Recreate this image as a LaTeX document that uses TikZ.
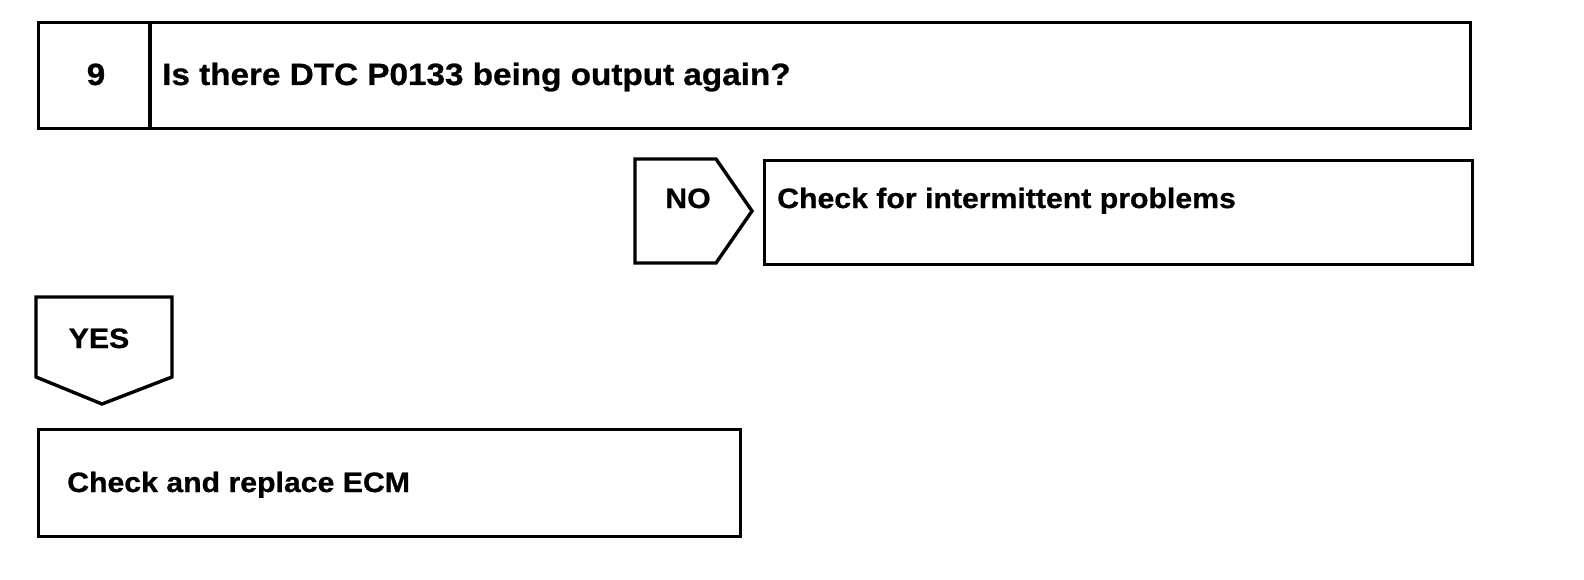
\documentclass[tikz,border=0pt]{standalone}
\usepackage{fontspec}
\setmainfont{Liberation Sans}
\newfontfamily\labfont[FakeStretch=1.08,FakeBold=0.8]{Liberation Sans}
\begin{document}
\begin{tikzpicture}[x=1pt,y=-1pt,
  boxline/.style={line width=3.4pt,line join=miter},
  lab/.style={inner sep=0pt,font=\labfont\bfseries\fontsize{28}{32}\selectfont},
  qlab/.style={inner sep=0pt,font=\labfont\bfseries\fontsize{30.8}{34}\selectfont}]
\useasboundingbox[fill=white] (0,0) rectangle (1584,580);
% top question box
\node[boxline,draw,rectangle,anchor=north west,minimum width=1432pt,minimum height=106pt,inner sep=0pt] (q) at (37,21) {};
\coordinate (dtop) at (150,21);
\coordinate (dbot) at (150,127);
\draw[boxline] (dtop) -- (dbot);
\node[qlab,anchor=base] (num) at (96,85) {9};
\node[qlab,anchor=base west] (qtext) at (162,85) {Is there DTC P0133 being output again?};
% NO arrow
\coordinate (n1) at (635,159);
\coordinate (n2) at (716,159);
\coordinate (n3) at (752,211);
\coordinate (n4) at (716,263);
\coordinate (n5) at (635,263);
\draw[boxline] (n1) -- (n2) -- (n3) -- (n4) -- (n5) -- cycle;
\node[lab,anchor=base] (no) at (688,208) {NO};
% NO result box
\node[boxline,draw,rectangle,anchor=north west,minimum width=708pt,minimum height=104pt,inner sep=0pt] (r1) at (763,159) {};
\node[lab,anchor=base west] (r1text) at (777,208) {Check for intermittent problems};
% YES arrow
\coordinate (y1) at (36,297);
\coordinate (y2) at (172,297);
\coordinate (y3) at (172,377);
\coordinate (y4) at (102,404);
\coordinate (y5) at (36,377);
\draw[boxline] (y1) -- (y2) -- (y3) -- (y4) -- (y5) -- cycle;
\node[lab,anchor=base] (yes) at (99,348) {YES};
% YES result box
\node[boxline,draw,rectangle,anchor=north west,minimum width=702pt,minimum height=107pt,inner sep=0pt] (r2) at (37,428) {};
\node[lab,anchor=base west] (r2text) at (67,492) {Check and replace ECM};
\end{tikzpicture}
\end{document}
